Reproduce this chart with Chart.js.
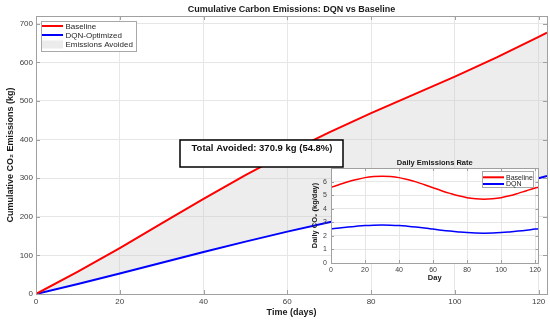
<!DOCTYPE html>
<html>
<head>
<meta charset="utf-8">
<script src="https://cdn.jsdelivr.net/npm/chart.js@4"></script>
<style>
body { margin: 0; background: #fff; }
#wrap { position: relative; width: 550px; height: 323px; }
#main { position: absolute; left: 0; top: 0; }
#inset { position: absolute; left: 306px; top: 155px; }
</style>
</head>
<body>
<div id="wrap">
<canvas id="main" width="550" height="323"></canvas>
<canvas id="inset" width="238" height="130"></canvas>
</div>
<script>
// cumulative emissions (kg)
const days = [0, 10, 20, 30, 40, 50, 60, 70, 80, 90, 100, 110, 120, 122];
const baselineCum = [0, 57.7, 119.1, 182.7, 246.3, 307.8, 365.5, 418.8, 468.3, 515.7, 563.1, 612.7, 666.0, 676.8];
const dqnCum = [0, 25.8, 52.9, 80.7, 108.6, 135.7, 161.5, 185.7, 208.6, 230.7, 252.9, 275.8, 300.0, 305.9];

// daily rate (kg/day)
const rateDays = [0, 5, 10, 15, 20, 25, 30, 35, 40, 45, 50, 55, 60, 65, 70, 75, 80, 85, 90, 95, 100, 105, 110, 115, 120, 122];
const baselineRate = [5.58, 5.78, 5.98, 6.15, 6.29, 6.37, 6.40, 6.37, 6.29, 6.15, 5.98, 5.77, 5.55, 5.33, 5.13, 4.95, 4.81, 4.73, 4.70, 4.73, 4.81, 4.95, 5.13, 5.33, 5.52, 5.58];
const dqnRate = [2.52, 2.58, 2.65, 2.71, 2.76, 2.79, 2.80, 2.79, 2.76, 2.71, 2.65, 2.58, 2.50, 2.42, 2.35, 2.29, 2.24, 2.21, 2.20, 2.21, 2.24, 2.29, 2.35, 2.42, 2.50, 2.52];

const xTicks = [0, 20, 40, 60, 80, 100, 120];
const yTicksMain = [0, 100, 200, 300, 400, 500, 600, 700];
const yTicksInset = [0, 1, 2, 3, 4, 5, 6];
const totalAvoided = 370.9;
const pctAvoided = 54.8;

const FONT = 'Liberation Sans, Arial, Helvetica, sans-serif';
Chart.defaults.font.family = FONT;
Chart.defaults.color = '#404040';

function pts(xs, ys) { return xs.map((x, i) => ({ x: x, y: ys[i] })); }

function setTicks(list) {
  return s => { s.ticks = list.map(v => ({ value: v })); };
}

// title centred over the plot box, like matlab does
function plotTitle(text, size, y) {
  return {
    id: 'plotTitle',
    afterDraw(chart) {
      const { ctx, chartArea: a } = chart;
      ctx.save();
      ctx.font = 'bold ' + size + 'px ' + FONT;
      ctx.fillStyle = '#1a1a1a';
      ctx.textAlign = 'center';
      ctx.textBaseline = 'middle';
      ctx.fillText(text, (a.left + a.right) / 2, y);
      ctx.restore();
    }
  };
}

function frame(color, len) {
  return {
    id: 'frame',
    afterDraw(chart) {
      const { ctx, chartArea: a, scales } = chart;
      ctx.save();
      ctx.strokeStyle = color;
      ctx.lineWidth = 1;
      ctx.beginPath();
      scales.x.ticks.forEach(t => {
        const px = Math.round(scales.x.getPixelForValue(t.value)) + 0.5;
        ctx.moveTo(px, a.bottom); ctx.lineTo(px, a.bottom - len);
        ctx.moveTo(px, a.top); ctx.lineTo(px, a.top + len);
      });
      scales.y.ticks.forEach(t => {
        const py = Math.round(scales.y.getPixelForValue(t.value)) + 0.5;
        ctx.moveTo(a.left, py); ctx.lineTo(a.left + len, py);
        ctx.moveTo(a.right, py); ctx.lineTo(a.right - len, py);
      });
      ctx.stroke();
      ctx.strokeRect(Math.round(a.left) + 0.5, Math.round(a.top) + 0.5,
        Math.round(a.right - a.left), Math.round(a.bottom - a.top));
      ctx.restore();
    }
  };
}

function legendBox(box, size) {
  return {
    id: 'legendBox',
    afterDraw(chart) {
      const ctx = chart.ctx;
      ctx.save();
      ctx.fillStyle = '#fff';
      ctx.fillRect(box.x, box.y, box.w, box.h);
      ctx.strokeStyle = '#a8a8a8';
      ctx.lineWidth = 1;
      ctx.strokeRect(box.x + 0.5, box.y + 0.5, box.w, box.h);
      ctx.font = size + 'px ' + FONT;
      ctx.textBaseline = 'middle';
      chart.data.datasets.forEach((ds, i) => {
        const y = box.rows[i];
        if (ds.fill !== undefined && ds.fill !== false) {
          ctx.fillStyle = '#ececec';
          ctx.fillRect(box.lx0, y - 4, box.lx1 - box.lx0, 8);
        } else {
          ctx.strokeStyle = ds.borderColor;
          ctx.lineWidth = 2;
          ctx.beginPath();
          ctx.moveTo(box.lx0, y); ctx.lineTo(box.lx1, y);
          ctx.stroke();
        }
        ctx.fillStyle = '#262626';
        ctx.fillText(ds.label, box.tx, y + 0.5);
      });
      ctx.restore();
    }
  };
}

const annotation = {
  id: 'annotation',
  afterDraw(chart) {
    const ctx = chart.ctx;
    ctx.save();
    ctx.fillStyle = '#fff';
    ctx.fillRect(180, 140, 163, 27);
    ctx.strokeStyle = '#000';
    ctx.lineWidth = 1.5;
    ctx.strokeRect(180, 140, 163, 27);
    ctx.fillStyle = '#111';
    ctx.font = 'bold 9.5px ' + FONT;
    ctx.textAlign = 'center';
    ctx.textBaseline = 'middle';
    ctx.fillText('Total Avoided: ' + totalAvoided.toFixed(1) + ' kg (' + pctAvoided.toFixed(1) + '%)', 262, 148);
    ctx.restore();
  }
};

const whiteArea = {
  id: 'whiteArea',
  beforeDraw(chart) {
    const a = chart.chartArea;
    chart.ctx.save();
    chart.ctx.fillStyle = '#fff';
    chart.ctx.fillRect(a.left, a.top, a.right - a.left, a.bottom - a.top);
    chart.ctx.restore();
  }
};

new Chart(document.getElementById('main'), {
  type: 'line',
  data: {
    datasets: [
      { label: 'Baseline', data: pts(days, baselineCum), borderColor: '#ff0000', borderWidth: 2, pointRadius: 0, order: 0 },
      { label: 'DQN-Optimized', data: pts(days, dqnCum), borderColor: '#0000ff', borderWidth: 2, pointRadius: 0, order: 0 },
      { label: 'Emissions Avoided', data: pts(days, baselineCum), borderWidth: 0, pointRadius: 0,
        backgroundColor: 'rgba(200,200,200,0.32)', fill: 1, order: 1 }
    ]
  },
  options: {
    responsive: false,
    animation: false,
    layout: { padding: { left: 0, right: 3, top: 16, bottom: 0 } },
    plugins: {
      legend: { display: false },
      tooltip: { enabled: false },
      title: { display: false }
    },
    scales: {
      x: {
        type: 'linear', min: 0, max: 122,
        afterBuildTicks: setTicks(xTicks),
        afterFit: s => { s.height = 29; },
        ticks: { font: { size: 8 }, padding: 3, maxRotation: 0 },
        grid: { color: '#e6e6e6', drawTicks: false },
        border: { display: false },
        title: { display: true, text: 'Time (days)', font: { size: 9, weight: 'bold' }, color: '#1a1a1a', padding: { top: 0, bottom: 5 } }
      },
      y: {
        min: 0, max: 720,
        afterBuildTicks: setTicks(yTicksMain),
        afterFit: s => { s.width = 36; },
        ticks: { font: { size: 8 }, padding: 3 },
        grid: { color: '#e6e6e6', drawTicks: false },
        border: { display: false },
        title: { display: true, text: 'Cumulative CO\u2082 Emissions (kg)', font: { size: 9, weight: 'bold' }, color: '#1a1a1a', padding: { top: 5, bottom: 0 } }
      }
    }
  },
  plugins: [frame('#a0a0a0', 4), plotTitle('Cumulative Carbon Emissions: DQN vs Baseline', 9, 9.5),
    legendBox({ x: 41, y: 21, w: 95, h: 30, rows: [26, 35, 44.5], lx0: 42, lx1: 63, tx: 65.5 }, 8), annotation]
});

new Chart(document.getElementById('inset'), {
  type: 'line',
  data: {
    datasets: [
      { label: 'Baseline', data: pts(rateDays, baselineRate), borderColor: '#ff0000', borderWidth: 1.5, pointRadius: 0, tension: 0.4 },
      { label: 'DQN', data: pts(rateDays, dqnRate), borderColor: '#0000ff', borderWidth: 1.5, pointRadius: 0, tension: 0.4 }
    ]
  },
  options: {
    responsive: false,
    animation: false,
    layout: { padding: { left: 0, right: 4, top: 13, bottom: 0 } },
    plugins: {
      legend: { display: false },
      tooltip: { enabled: false },
      title: { display: false }
    },
    scales: {
      x: {
        type: 'linear', min: 0, max: 122,
        afterBuildTicks: setTicks(xTicks),
        afterFit: s => { s.height = 22; },
        ticks: { font: { size: 7 }, padding: 3, maxRotation: 0 },
        grid: { color: '#e6e6e6', drawTicks: false },
        border: { display: false },
        title: { display: true, text: 'Day', font: { size: 7.5, weight: 'bold' }, color: '#1a1a1a', padding: { top: 0, bottom: 2.5 } }
      },
      y: {
        min: 0, max: 7,
        afterBuildTicks: setTicks(yTicksInset),
        afterFit: s => { s.width = 25; },
        ticks: { font: { size: 7 }, padding: 4 },
        grid: { color: '#e6e6e6', drawTicks: false },
        border: { display: false },
        title: { display: true, text: 'Daily CO\u2082 (kg/day)', font: { size: 7.5, weight: 'bold' }, color: '#1a1a1a', padding: { top: 4.5, bottom: 0 } }
      }
    }
  },
  plugins: [whiteArea, frame('#a0a0a0', 3), plotTitle('Daily Emissions Rate', 7.5, 8),
    legendBox({ x: 176, y: 16, w: 51, h: 16, rows: [22.3, 29], lx0: 177, lx1: 198, tx: 200 }, 7)]
});
</script>
</body>
</html>
